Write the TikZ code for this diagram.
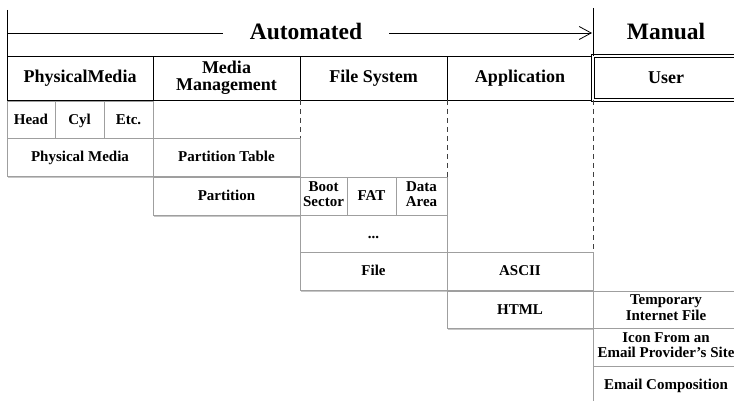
\documentclass[tikz,border=0pt]{standalone}
\usepackage{fontspec}
\setmainfont{Liberation Serif}
\usetikzlibrary{arrows.meta,positioning,shadows}

\begin{document}
\begin{tikzpicture}[
  x=1pt, y=1pt,
  hdr/.style={rectangle, draw=black, line width=0.8pt, minimum height=44pt, outer sep=0pt,
              inner sep=0pt, align=center, font=\bfseries\fontsize{18}{17}\selectfont},
  cell/.style={rectangle, draw=gray!75, fill=white, line width=0.8pt, minimum height=37.5pt,
               outer sep=0pt, inner sep=0pt, align=center,
               font=\bfseries\fontsize{15}{15.5}\selectfont,
               execute at begin node={\rule{0pt}{13pt}},
               execute at end node={\rule[-4pt]{0pt}{4pt}},
               drop shadow={shadow xshift=1.2pt, shadow yshift=-1.8pt, opacity=0.45}},
  sep/.style={dash pattern=on 5pt off 4pt, line width=0.7pt, black!75},
  big/.style={font=\bfseries\fontsize{23.5}{26}\selectfont, inner xsep=27pt},
  rule/.style={line width=0.8pt}
]
\useasboundingbox (0,0) rectangle (734,-401);

% header row
\node[hdr, minimum width=146pt, anchor=north west] (hpm) at (7,-56) {PhysicalMedia};
\node[hdr, minimum width=147pt, right=0pt of hpm] (hmm) {Media\\Management};
\node[hdr, minimum width=147pt, right=0pt of hmm] (hfs) {File System};
\node[hdr, minimum width=146pt, right=0pt of hfs] (happ) {Application};
\node[hdr, double, double distance=1.5pt, minimum width=146pt, right=0pt of happ] (huser) {User};

% automated / manual band
\coordinate (tl) at (7,-10);
\coordinate (tr) at (593,-8);
\coordinate (arrS) at (7,-33);
\coordinate (arrE) at (592,-33);
\node[big] (auto) at (306,-31) {Automated};
\node[big, inner xsep=0pt] (manual) at (666,-31) {Manual};
\draw[rule] (tl) -- (hpm.north west);
\draw[rule] (tr) -- (huser.north west);
\draw[rule] (arrS) -- (arrS -| auto.west);
\draw[rule, -{Straight Barb[length=12pt, width=13pt]}] (arrS -| auto.east) -- (arrE);

% physical media
\node[cell, minimum width=48pt, anchor=north west] (head) at (7,-101) {Head};
\node[cell, minimum width=49pt, right=0pt of head] (cyl) {Cyl};
\node[cell, minimum width=49pt, right=0pt of cyl] (etcc) {Etc.};
\node[cell, minimum width=146pt, anchor=north west] (pmed) at (head.south west) {Physical Media};

% media management
\node[cell, minimum width=147pt, right=0pt of pmed] (ptab) {Partition Table};
\node[cell, minimum width=147pt, anchor=north west] (part) at ([yshift=-1.5pt]ptab.south west) {Partition};

% file system
\node[cell, minimum width=47pt, right=0pt of part] (boot) {Boot\\Sector};
\node[cell, minimum width=49pt, right=0pt of boot] (fat) {FAT};
\node[cell, minimum width=51pt, right=0pt of fat] (darea) {Data\\Area};
\node[cell, minimum width=147pt, anchor=north west] (dots) at (boot.south west) {...};
\node[cell, minimum width=147pt, anchor=north west] (file) at (dots.south west) {File};

% application
\node[cell, minimum width=146pt, right=0pt of file] (ascii) {ASCII};
\node[cell, minimum width=146pt, anchor=north west] (html) at ([yshift=-1pt]ascii.south west) {HTML};

% user
\node[cell, minimum width=146pt, right=0pt of html] (tmp) {Temporary\\Internet File};
\node[cell, minimum width=146pt, anchor=north west] (icon) at (tmp.south west) {Icon From an\\Email Provider's Site};
\node[cell, minimum width=146pt, anchor=north west] (mail) at (icon.south west) {Email Composition};

% column boundaries
\draw[sep] (hmm.south east) -- (ptab.north east);
\draw[sep] (hfs.south east) -- (darea.north east);
\draw[sep] (happ.south east) -- (ascii.north east);
\end{tikzpicture}
\end{document}
